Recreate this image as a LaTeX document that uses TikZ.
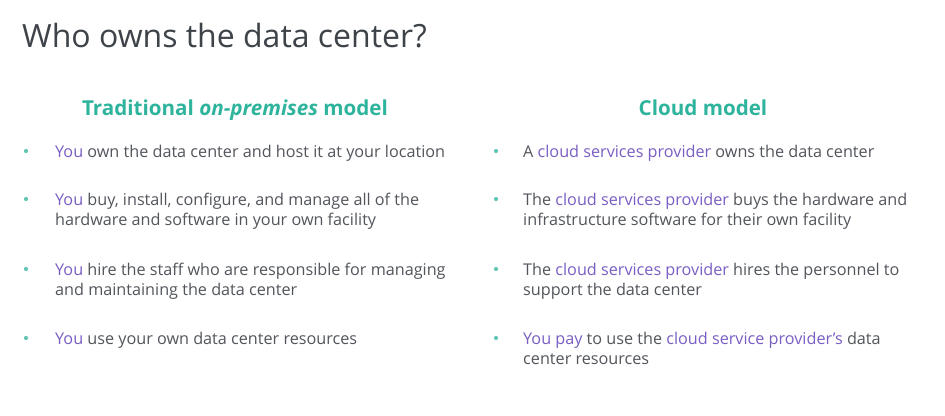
\documentclass[tikz,border=0pt]{standalone}
\usepackage{fontspec}
\setmainfont{Open Sans}
\definecolor{txt}{RGB}{82,86,92}
\definecolor{ttl}{RGB}{62,67,73}
\definecolor{hl}{RGB}{122,94,196}
\definecolor{teal}{RGB}{46,180,156}
\tikzset{
  line/.style={anchor=base west,inner sep=0pt,text=txt,font=\fontsize{16.2}{20}\selectfont},
  head/.style={anchor=base,inner sep=0pt,text=teal,font=\fontsize{20.6}{24}\selectfont\bfseries},
  dot/.style={circle,fill=teal!75,inner sep=0pt,minimum size=4.2pt},
}
\newcommand{\hlx}[1]{\textcolor{hl}{#1}}
\begin{document}
\begin{tikzpicture}[x=1pt,y=-1pt]
\useasboundingbox[fill=white] (0,0) rectangle (945,415);
\node[anchor=base west,inner sep=0pt,text=ttl,font=\fontsize{32}{36}\selectfont] (title) at (22,47) {Who owns the data center?};
\node[head] (hL) at (235,115) {Traditional \textit{on-premises} model};
\node[head] (hR) at (703,115) {Cloud model};
% left column
\node[dot] (bL1) at (26,151) {};
\node[line] (L1a) at (55,157) {\hlx{You} own the data center and host it at your location};
\node[dot] (bL2) at (26,199) {};
\node[line] (L2a) at (55,205) {\hlx{You} buy, install, configure, and manage all of the};
\node[line] (L2b) at (55,225) {hardware and software in your own facility};
\node[dot] (bL3) at (26,269) {};
\node[line] (L3a) at (55,275) {\hlx{You} hire the staff who are responsible for managing};
\node[line] (L3b) at (55,295) {and maintaining the data center};
\node[dot] (bL4) at (26,338) {};
\node[line] (L4a) at (55,344) {\hlx{You} use your own data center resources};
% right column
\node[dot] (bR1) at (496,151) {};
\node[line] (R1a) at (523,157) {A \hlx{cloud services provider} owns the data center};
\node[dot] (bR2) at (496,199) {};
\node[line] (R2a) at (523,205) {The \hlx{cloud services provider} buys the hardware and};
\node[line] (R2b) at (523,225) {infrastructure software for their own facility};
\node[dot] (bR3) at (496,269) {};
\node[line] (R3a) at (523,275) {The \hlx{cloud services provider} hires the personnel to};
\node[line] (R3b) at (523,295) {support the data center};
\node[dot] (bR4) at (496,338) {};
\node[line] (R4a) at (523,344) {\hlx{You pay} to use the \hlx{cloud service provider’s} data};
\node[line] (R4b) at (523,364) {center resources};
\end{tikzpicture}
\end{document}
